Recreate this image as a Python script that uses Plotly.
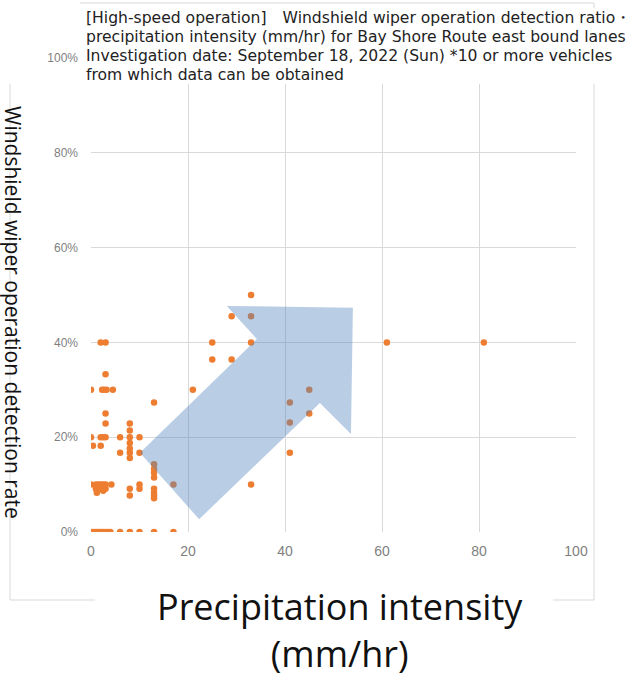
import plotly.graph_objects as go

# Precipitation intensity (mm/hr) and wiper operation detection ratio per observation
precip = [
    0, 0.5, 1, 1.5, 2, 2.5, 3, 3.5, 4, 6, 8, 10, 13, 17,
    0, 0, 0, 0.4,
    2, 3, 3,
    2.3, 2.7, 3.2, 4.5,
    3, 3,
    2, 2.5, 3, 6, 8, 10,
    2, 6, 10,
    8, 8, 8, 8, 8, 8, 8, 8,
    13, 13, 13, 13, 13, 13, 13, 13, 13,
    17,
    1, 1.5, 2, 2.5, 3, 4.2, 1, 2, 3, 1.2, 2.5,
    10, 10,
    21, 25, 25, 29, 29, 33, 33, 33, 33,
    41, 41, 41, 45, 45, 61, 81,
]
wiper_ratio = [
    0, 0, 0, 0, 0, 0, 0, 0, 0, 0, 0, 0, 0, 0,
    0.10, 0.20, 0.30, 0.182,
    0.40, 0.40, 0.333,
    0.30, 0.30, 0.30, 0.30,
    0.25, 0.229,
    0.20, 0.20, 0.20, 0.20, 0.20, 0.20,
    0.182, 0.167, 0.167,
    0.229, 0.214, 0.188, 0.176, 0.167, 0.156, 0.091, 0.077,
    0.273, 0.143, 0.133, 0.125, 0.115, 0.091, 0.083, 0.077, 0.071,
    0.10,
    0.10, 0.10, 0.10, 0.10, 0.10, 0.10, 0.091, 0.091, 0.091, 0.083, 0.087,
    0.10, 0.091,
    0.30, 0.40, 0.364, 0.455, 0.364, 0.50, 0.455, 0.40, 0.10,
    0.273, 0.231, 0.167, 0.30, 0.25, 0.40, 0.40,
]

x_ticks = [0, 20, 40, 60, 80, 100]
y_ticks = [0, 0.2, 0.4, 0.6, 0.8, 1.0]

title_lines = [
    "[High-speed operation]\u3000Windshield wiper operation detection ratio\u30fb",
    "precipitation intensity (mm/hr) for Bay Shore Route east bound lanes",
    "Investigation date: September 18, 2022 (Sun) *10 or more vehicles",
    "from which data can be obtained",
]
y_title = "Windshield wiper operation detection rate"
x_title_lines = ["Precipitation intensity", "(mm/hr)"]

# trend arrow outline (data units: mm/hr, ratio)
arrow_x = [10.1, 34.2, 28.0, 54.0, 53.6, 47.2, 22.3]
arrow_y = [0.167, 0.407, 0.477, 0.473, 0.207, 0.272, 0.027]

W, H = 634, 677
L, R, T, B = 91, 58, 58, 145
PW, PH = W - L - R, H - T - B


def px(xpix):
    return (xpix - L) / PW


def py(ypix):
    return (H - B - ypix) / PH


fig = go.Figure()
fig.add_trace(go.Scatter(
    x=precip, y=wiper_ratio, mode="markers",
    marker=dict(color="#ED7D31", size=6.5, line=dict(width=0)),
    hoverinfo="x+y", showlegend=False,
))

path = "M " + " L ".join(f"{a},{b}" for a, b in zip(arrow_x, arrow_y)) + " Z"

frame = dict(color="#D9D9D9", width=1)
shapes = [
    # outer chart frame
    dict(type="line", xref="paper", yref="paper", x0=px(80), x1=px(594), y0=py(3), y1=py(3),
         line=frame, layer="above"),
    dict(type="line", xref="paper", yref="paper", x0=px(594), x1=px(594), y0=py(3), y1=py(600),
         line=frame, layer="above"),
    dict(type="line", xref="paper", yref="paper", x0=px(10), x1=px(10), y0=py(84), y1=py(600),
         line=frame, layer="above"),
    dict(type="line", xref="paper", yref="paper", x0=px(10), x1=px(95), y0=py(600), y1=py(600),
         line=frame, layer="above"),
    dict(type="line", xref="paper", yref="paper", x0=px(553), x1=px(594), y0=py(600), y1=py(600),
         line=frame, layer="above"),
    # title box
    dict(type="rect", xref="paper", yref="paper", x0=px(80), x1=px(634), y0=py(8), y1=py(84),
         fillcolor="white", line=dict(width=0), layer="above"),
    # trend arrow
    dict(type="path", xref="x", yref="y", path=path, fillcolor="#4F81BD", opacity=0.4,
         line=dict(width=0), layer="above"),
]

annotations = []
for i, line in enumerate(title_lines):
    annotations.append(dict(
        xref="paper", yref="paper", x=px(84), y=py(18 + 19 * i), xanchor="left",
        yanchor="middle", text=line, align="left", showarrow=False,
        font=dict(family="DejaVu Sans", size=15.6, color="#222222"),
    ))
annotations += [
    dict(xref="paper", yref="paper", x=px(13), y=py(312), xanchor="center", yanchor="middle",
         text=y_title, textangle=90, showarrow=False,
         font=dict(family="Open Sans", size=21, color="#111111")),
    dict(xref="paper", yref="paper", x=px(340), y=py(629.5), xanchor="center", yanchor="middle",
         text="<br>".join(x_title_lines), align="center", showarrow=False,
         font=dict(family="Open Sans", size=36, color="#111111")),
]

fig.update_layout(
    width=W, height=H,
    margin=dict(l=L, r=R, t=T, b=B, pad=0),
    paper_bgcolor="white", plot_bgcolor="white",
    shapes=shapes, annotations=annotations,
    showlegend=False,
)
fig.update_xaxes(
    range=[0, 100], tickvals=x_ticks, showgrid=True, gridcolor="#D9D9D9", gridwidth=1,
    zeroline=False, showline=False, ticks="", ticklabelstandoff=9,
    tickfont=dict(family="Liberation Sans", size=14, color="#7F7F7F"),
)
fig.update_yaxes(
    range=[0, 1], tickvals=y_ticks, tickformat=".0%", showgrid=True, gridcolor="#D9D9D9",
    gridwidth=1, zeroline=False, showline=False, ticks="", ticklabelstandoff=12,
    tickfont=dict(family="Liberation Sans", size=12, color="#7F7F7F"),
)

fig.write_html("out.html")
